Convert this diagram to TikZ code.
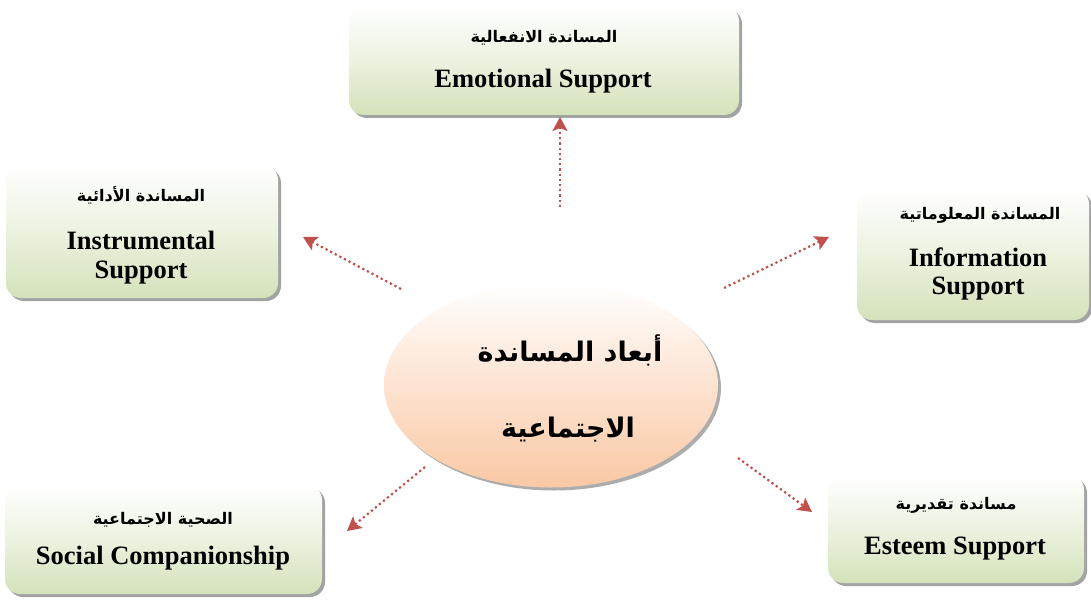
\documentclass[tikz,border=0pt]{standalone}
\usepackage{fontspec}
\setmainfont{Liberation Serif}
\newfontfamily\arabicfont[Script=Arabic]{DejaVu Sans}
\TeXXeTstate=1
\usetikzlibrary{arrows.meta,shadows,shapes.geometric}
\definecolor{boxgreen}{RGB}{212,226,186}
\definecolor{peach}{RGB}{250,200,164}
\definecolor{arrowred}{RGB}{192,80,77}
\tikzset{
  greenbox/.style={rectangle, rounded corners=15pt, draw=none,
    top color=white, bottom color=boxgreen, middle color=boxgreen!45,
    drop shadow={shadow xshift=3pt, shadow yshift=-3pt, fill=black!45, opacity=0.8}},
  hubshape/.style={ellipse, draw=none, top color=white, bottom color=peach,
    drop shadow={shadow xshift=3pt, shadow yshift=-3pt, fill=black!40, opacity=0.8}},
  artext/.style={font=\arabicfont\bfseries\fontsize{16}{18}\selectfont, inner sep=0pt},
  entext/.style={font=\bfseries\fontsize{26.5}{29}\selectfont, inner sep=0pt},
  hubtext/.style={font=\arabicfont\bfseries\fontsize{27}{31}\selectfont, inner sep=0pt},
  link/.style={draw=arrowred, line width=2.2pt, dash pattern=on 2.2pt off 3pt,
    -{Stealth[length=14pt, width=15pt, inset=3pt, fill=arrowred]}}
}
\begin{document}
\begin{tikzpicture}[x=1pt,y=-1pt]
\useasboundingbox (0,0) rectangle (1091,599);
% boxes
\node[greenbox, minimum width=390pt, minimum height=109pt] (emo) at (544,60.5) {};
\node[greenbox, minimum width=272pt, minimum height=133pt] (ins) at (142,231.5) {};
\node[greenbox, minimum width=232pt, minimum height=131pt] (inf) at (973,254.5) {};
\node[greenbox, minimum width=317pt, minimum height=109pt] (soc) at (163.5,539.5) {};
\node[greenbox, minimum width=256pt, minimum height=108pt] (est) at (956,529) {};
\node[hubshape, minimum width=334pt, minimum height=205pt, inner sep=0pt] (hub) at (551,385) {};
% texts
\node[artext] (emoA) at (544,38) {\beginR المساندة الانفعالية\endR};
\node[entext] (emoE) at (543,81) {Emotional Support};
\node[artext] (insA) at (141,195) {\beginR المساندة الأدائية\endR};
\node[entext] (insE1) at (141,240) {Instrumental};
\node[entext] (insE2) at (141,273) {Support};
\node[artext] (infA) at (980,215) {\beginR المساندة المعلوماتية\endR};
\node[entext] (infE1) at (978,257) {Information};
\node[entext] (infE2) at (978,289) {Support};
\node[artext] (socA) at (163,520) {\beginR الصحية الاجتماعية\endR};
\node[entext] (socE) at (163,558) {Social Companionship};
\node[artext] (estA) at (956,505) {\beginR مساندة تقديرية\endR};
\node[entext] (estE) at (955,549) {Esteem Support};
\node[hubtext] (hubA1) at (570,350) {\beginR أبعاد المساندة\endR};
\node[hubtext] (hubA2) at (568,430) {\beginR الاجتماعية\endR};
% connector ends
\coordinate (s1) at (560,207); \coordinate (t1) at (560,117);
\coordinate (s2) at (401,289); \coordinate (t2) at (303,237);
\coordinate (s3) at (724,288); \coordinate (t3) at (829,237);
\coordinate (s4) at (425,467); \coordinate (t4) at (347,531);
\coordinate (s5) at (738,458); \coordinate (t5) at (812,512);
\draw[link] (s1) -- (t1);
\draw[link] (s2) -- (t2);
\draw[link] (s3) -- (t3);
\draw[link] (s4) -- (t4);
\draw[link] (s5) -- (t5);
\end{tikzpicture}
\end{document}
